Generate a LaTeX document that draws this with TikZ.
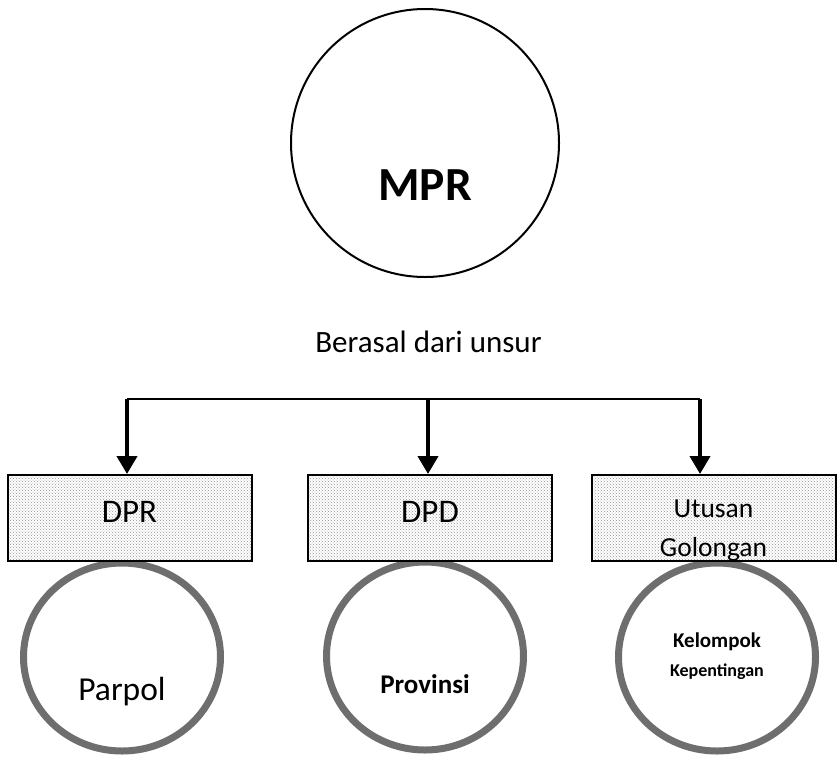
\documentclass[tikz,border=0pt]{standalone}
\usepackage{fontspec}
\setmainfont{Carlito}
\usetikzlibrary{shapes.geometric, arrows.meta, positioning, patterns}

\definecolor{ringgray}{RGB}{110,110,110}

\newcommand{\boxtext}[2]{\raisebox{#1}[0pt][0pt]{#2}}

\tikzset{
  unsurbox/.style={draw, line width=2pt, minimum width=244pt, minimum height=86pt,
    preaction={fill=white}, pattern=crosshatch dots, pattern color=gray!85,
    align=center, inner sep=0pt, font=\fontsize{33}{40}\selectfont},
  asalring/.style={ellipse, draw=ringgray, fill=white, line width=7pt,
    minimum width=197pt, minimum height=188pt},
  busline/.style={line width=2.5pt},
  downarrow/.style={line width=4pt, -{Triangle[width=20pt,length=18pt]}},
}

\begin{document}
\begin{tikzpicture}[x=1pt, y=-1pt]
    \useasboundingbox (0,0) rectangle (837,756);

    % MPR
    \node[circle, draw, line width=2pt, minimum size=268pt] (mpr) at (425,143) {};
    \node[anchor=base, font=\fontsize{47.5}{52}\selectfont\bfseries] (mprtext) at (425,200) {MPR};

    \node[anchor=base, font=\fontsize{31}{36}\selectfont] (asal) at (428.5,352) {Berasal dari unsur};

    % Asal rings
    \node[asalring] (parpol) at (122,657) {};
    \node[asalring] (prov) at (425,656) {};
    \node[asalring] (kk) at (717,657) {};
    \node[anchor=base, font=\fontsize{33.5}{38}\selectfont] (parpoltext) at (122,700) {Parpol};
    \node[anchor=base, font=\fontsize{27}{32}\selectfont\bfseries] (provtext) at (425,693) {Provinsi};
    \node[anchor=base, font=\fontsize{21}{25}\selectfont\bfseries] (kktext1) at (717,647) {Kelompok};
    \node[anchor=base, font=\fontsize{18}{22}\selectfont\bfseries] (kktext2) at (717,676) {Kepentingan};

    % Unsur boxes
    \node[unsurbox] (dpr) at (129.5,518) {\boxtext{-4.5pt}{DPR}};
    \node[unsurbox] (dpd) at (430,518) {\boxtext{-4.5pt}{DPD}};
    \node[unsurbox, font=\fontsize{27.5}{39}\selectfont] (ug) at (713.5,518)
        {\boxtext{1pt}{\begin{tabular}[t]{@{}c@{}}Utusan\\Golongan\end{tabular}}};

    % Connectors
    \coordinate (jl) at (127,399);
    \coordinate (jm) at (428,399);
    \coordinate (jr) at (700,399);
    \draw[busline] (jl) -- (jr);
    \draw[downarrow] (jl) -- (jl |- dpr.north);
    \draw[downarrow] (jm) -- (jm |- dpd.north);
    \draw[downarrow] (jr) -- (jr |- ug.north);
\end{tikzpicture}
\end{document}
